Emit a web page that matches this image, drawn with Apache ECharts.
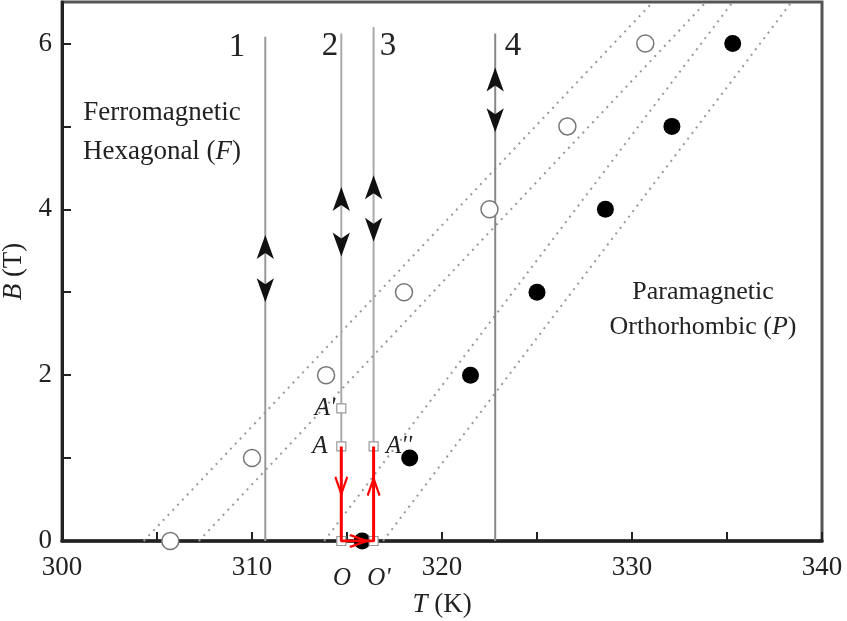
<!DOCTYPE html>
<html>
<head>
<meta charset="utf-8">
<script src="https://cdn.jsdelivr.net/npm/echarts@6/dist/echarts.min.js"></script>
<style>html,body{margin:0;background:#fff}#main{width:847px;height:621px}</style>
</head>
<body>
<div id="main"></div>
<script>
const openT = [305.7, 310.0, 313.9, 318.0, 322.5, 326.6, 330.7];
const openB = [0, 1, 2, 3, 4, 5, 6];
const filledT = [315.8, 318.3, 321.5, 325.0, 328.6, 332.1, 335.3];
const filledB = [0, 1, 2, 3, 4, 5, 6];

// dotted phase boundaries, T at B=0 and at B=6.5
const boundaryStart = [304.3, 307.2, 313.8, 316.9];
const boundaryEnd = [331.1, 333.9, 335.3, 338.4];

// vertical paths 1-4
const pathT = [310.7, 314.7, 316.4, 322.8];
const pathTop = [6.08, 6.12, 6.2, 6.12];
const pathColor = ['#999', '#aaa', '#aaa', '#888'];
const arrowUpB = [3.69, 4.27, 4.41, 5.71];
const arrowDownB = [2.88, 3.43, 3.61, 4.93];

// states A', A, A'', O, O'
const stateT = [314.7, 314.7, 316.4, 314.7, 316.4];
const stateB = [1.6, 1.14, 1.14, 0, 0];

// red cycle A -> O -> O' -> A''
const cycleT = [314.7, 314.7, 316.4, 316.4];
const cycleB = [1.14, 0, 0, 1.14];
const cycleArrowT = [314.7, 315.6, 316.4];
const cycleArrowB = [0.67, 0, 0.65];
const cycleArrowRot = [0, 90, 180];

const serif = '"Liberation Serif", "DejaVu Serif", serif';
const chart = echarts.init(document.getElementById('main'));

const series = [];

boundaryStart.forEach((t, i) => {
  series.push({
    type: 'line',
    data: [[t, 0], [boundaryEnd[i], 6.5]],
    symbol: 'none',
    silent: true,
    lineStyle: { color: '#999', width: 2, type: [2, 5] },
    z: 1,
  });
});

pathT.forEach((t, i) => {
  series.push({
    type: 'line',
    data: [[t, 0], [t, pathTop[i]]],
    symbol: 'none',
    lineStyle: { color: pathColor[i], width: 2 },
    z: 2,
  });
  series.push({
    type: 'scatter',
    data: [[t, arrowUpB[i]]],
    symbol: 'arrow',
    symbolSize: [13, 24],
    itemStyle: { color: '#111', opacity: 1 },
    z: 3,
  });
  series.push({
    type: 'scatter',
    data: [[t, arrowDownB[i]]],
    symbol: 'arrow',
    symbolRotate: 180,
    symbolSize: [13, 24],
    itemStyle: { color: '#111', opacity: 1 },
    z: 3,
  });
});

series.push({
  type: 'scatter',
  data: openT.map((t, i) => [t, openB[i]]),
  symbolSize: 17,
  itemStyle: { color: '#fff', borderColor: '#777', borderWidth: 1.5, opacity: 1 },
  z: 4,
});
series.push({
  type: 'scatter',
  data: filledT.map((t, i) => [t, filledB[i]]),
  symbolSize: 17,
  itemStyle: { color: '#000', opacity: 1 },
  z: 4,
});
series.push({
  type: 'scatter',
  data: stateT.map((t, i) => [t, stateB[i]]),
  symbol: 'rect',
  symbolSize: 9,
  itemStyle: { color: '#fff', borderColor: '#999', borderWidth: 1.2, opacity: 1 },
  z: 5,
});
series.push({
  type: 'line',
  data: cycleT.map((t, i) => [t, cycleB[i]]),
  symbol: 'none',
  lineStyle: { color: '#f00', width: 3 },
  z: 6,
});
series.push({
  type: 'scatter',
  data: cycleArrowT.map((t, i) => ({ value: [t, cycleArrowB[i]], symbolRotate: cycleArrowRot[i] })),
  symbol: 'path://M0,0L6,14L12,0',
  symbolSize: [12, 17],
  itemStyle: { color: 'none', borderColor: '#f00', borderWidth: 2.5, opacity: 1 },
  z: 7,
});

const txt = (x, y, text, size, extra) => ({
  type: 'text',
  x: x,
  y: y,
  z: 10,
  style: Object.assign({
    text: text,
    fontFamily: serif,
    fontSize: size,
    fill: '#222',
    align: 'center',
    verticalAlign: 'middle',
    rich: {
      i: { fontStyle: 'italic', fontFamily: serif, fontSize: size, fill: '#222' },
    },
  }, extra || {}),
});

const option = {
  animation: false,
  backgroundColor: '#fff',
  grid: {
    left: 62,
    right: 25,
    top: 2,
    bottom: 80,
    show: true,
    borderColor: '#555',
    borderWidth: 3,
    outerBoundsMode: 'none',
    containLabel: false,
  },
  xAxis: {
    type: 'value',
    min: 300,
    max: 340,
    interval: 5,
    name: '{i|T} (K)',
    nameLocation: 'middle',
    nameGap: 50,
    nameTextStyle: {
      fontFamily: serif,
      fontSize: 27,
      color: '#222',
      rich: { i: { fontStyle: 'italic', fontFamily: serif, fontSize: 27, color: '#222' } },
    },
    axisLine: { lineStyle: { color: '#222', width: 3.5 } },
    axisTick: { inside: true, length: 9, lineStyle: { color: '#222', width: 2 } },
    axisLabel: {
      fontFamily: serif,
      fontSize: 27,
      color: '#222',
      margin: 13,
      formatter: (v) => (v % 10 === 0 ? v : ''),
    },
    splitLine: { show: false },
  },
  yAxis: {
    type: 'value',
    min: 0,
    max: 6.5,
    interval: 1,
    name: '{i|B} (T)',
    nameLocation: 'middle',
    nameGap: 24,
    nameTextStyle: {
      fontFamily: serif,
      fontSize: 27,
      color: '#222',
      rich: { i: { fontStyle: 'italic', fontFamily: serif, fontSize: 27, color: '#222' } },
    },
    axisLine: { lineStyle: { color: '#222', width: 3 } },
    axisTick: { inside: true, length: 9, lineStyle: { color: '#222', width: 2 } },
    axisLabel: {
      fontFamily: serif,
      fontSize: 27,
      color: '#222',
      margin: 10,
      showMaxLabel: false,
      formatter: (v) => (v % 2 === 0 ? v : ''),
    },
    splitLine: { show: false },
  },
  graphic: [
    txt(237, 47, '1', 33),
    txt(330, 46, '2', 33),
    txt(388, 46, '3', 33),
    txt(513, 46, '4', 33),
    txt(162, 113, 'Ferromagnetic', 27),
    txt(162, 152, 'Hexagonal ({i|F})', 27),
    txt(703, 292, 'Paramagnetic', 26),
    txt(703, 327, 'Orthorhombic ({i|P})', 26),
    txt(325, 408, "{i|A'}", 25),
    txt(320, 446, '{i|A}', 25),
    txt(399, 446, "{i|A''}", 25),
    txt(342, 578, '{i|O}', 25),
    txt(379, 578, "{i|O'}", 25),
  ],
  series: series,
};

chart.setOption(option);
</script>
</body>
</html>
